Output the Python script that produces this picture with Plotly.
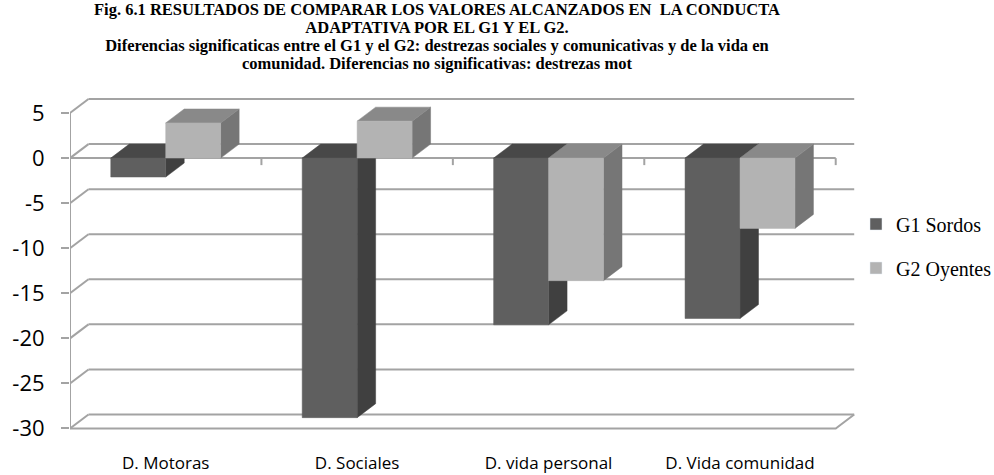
import plotly.graph_objects as go

# datos
categorias = ["D. Motoras", "D. Sociales", "D. vida personal", "D. Vida comunidad"]
g1_sordos = [-2.1, -28.8, -18.5, -17.8]
g2_oyentes = [3.9, 4.1, -13.6, -7.8]
ticks_y = [5, 0, -5, -10, -15, -20, -25, -30]

titulo = [
    "Fig. 6.1 RESULTADOS DE COMPARAR LOS VALORES ALCANZADOS EN  LA CONDUCTA",
    "ADAPTATIVA POR EL G1 Y EL G2.",
    "Diferencias significaticas entre el G1 y el G2: destrezas sociales y comunicativas y de la vida en",
    "comunidad. Diferencias no significativas: destrezas mot",
]

# colores de cada cara: frente, lateral, techo
COLORES = {
    "G1 Sordos": ("#5f5f5f", "#404040", "#484848"),
    "G2 Oyentes": ("#b3b3b3", "#767676", "#898989"),
}
GRID = "#a3a3a3"

DX = 0.0966   # profundidad en unidades de categoria
DY = 1.55     # profundidad en unidades de valor
ANCHO = 0.287
N = len(categorias)


def caras(valores, desp):
    """poligonos (frente, lateral, techo) de todas las barras de una serie"""
    fx, fy, sx, sy, tx, ty = [], [], [], [], [], []
    for i, v in enumerate(valores):
        xl = i + 0.5 + desp
        xr = xl + ANCHO
        yt = max(v, 0)
        fx += [xl, xr, xr, xl, xl, None]
        fy += [0, 0, v, v, 0, None]
        sx += [xr, xr + DX, xr + DX, xr, xr, None]
        sy += [0, DY, v + DY, v, 0, None]
        tx += [xl, xr, xr + DX, xl + DX, xl, None]
        ty += [yt, yt, yt + DY, yt + DY, yt, None]
    return (fx, fy), (sx, sy), (tx, ty)


fig = go.Figure()


def linea(xs, ys, w=2):
    fig.add_trace(go.Scatter(x=xs, y=ys, mode="lines", line=dict(color=GRID, width=w),
                             hoverinfo="skip", showlegend=False))


# pared del fondo y pared izquierda
gx, gy, dxs, dys = [], [], [], []
for t in ticks_y:
    gx += [DX, N + DX, None]
    gy += [t + DY, t + DY, None]
    dxs += [0, DX, None]
    dys += [t, t + DY, None]
linea(gx, gy)
linea(dxs, dys)
# suelo y eje vertical
linea([0, N, N + DX], [-30, -30, -30 + DY])
linea([0, 0], [-30, 5])
# eje de categorias en cero con marcas
ex, ey = [0, N, None], [0, 0, None]
for k in range(1, N + 1):
    ex += [k, k, None]
    ey += [0, -0.78, None]
linea(ex, ey)

for nombre, valores, desp in [("G1 Sordos", g1_sordos, -ANCHO), ("G2 Oyentes", g2_oyentes, 0)]:
    frente, lado, techo = caras(valores, desp)
    c_frente, c_lado, c_techo = COLORES[nombre]
    for (xs, ys), col in [(lado, c_lado), (techo, c_techo), (frente, c_frente)]:
        fig.add_trace(go.Scatter(x=xs, y=ys, mode="lines", fill="toself", fillcolor=col,
                                 line=dict(color=col, width=0.5), hoverinfo="skip",
                                 showlegend=False))
    # solo para la leyenda
    fig.add_trace(go.Bar(x=[None], y=[None], name=nombre, marker_color=c_frente,
                         legendgroup=nombre))

# titulo en un solo bloque: interlineado de 18px (fuente base 13.85) con letra de 16.5px
bloque = "<br>".join(f'<span style="font-size:16.5px"><b>{t}</b></span>' for t in titulo)
fig.add_annotation(text=bloque, xref="paper", yref="paper",
                   x=(437 - 70) / 804, y=1 - (37 - 95) / 356,
                   xanchor="center", yanchor="middle", showarrow=False,
                   font=dict(family="Liberation Serif", size=13.85, color="black"))

fig.update_layout(
    width=994, height=475,
    margin=dict(l=70, r=120, t=95, b=24, autoexpand=False),
    plot_bgcolor="white", paper_bgcolor="white",
    showlegend=True,
    legend=dict(x=(856 - 70) / 804, y=1 - (246 - 95) / 356, xanchor="left", yanchor="middle",
                traceorder="grouped", tracegroupgap=15,
                font=dict(family="Liberation Serif", size=20, color="black")),
    xaxis=dict(range=[0, 4.2], showgrid=False, zeroline=False, showline=False,
               automargin=False,
               tickvals=[i + 0.5 for i in range(N)], ticktext=categorias, ticks="",
               tickfont=dict(family="Open Sans", size=17, color="black")),
    yaxis=dict(range=[-32.5, 7], showgrid=False, zeroline=False, showline=False,
               automargin=False,
               tickvals=ticks_y, ticktext=[str(t) for t in ticks_y],
               ticks="outside", ticklen=8, tickwidth=2, tickcolor=GRID,
               ticklabelstandoff=12,
               tickfont=dict(family="Open Sans", size=22, color="black")),
)

# sin el margen de 8px del body
fig.write_html("out.html", config={"displayModeBar": False},
               post_script="document.body.style.margin='0';")
